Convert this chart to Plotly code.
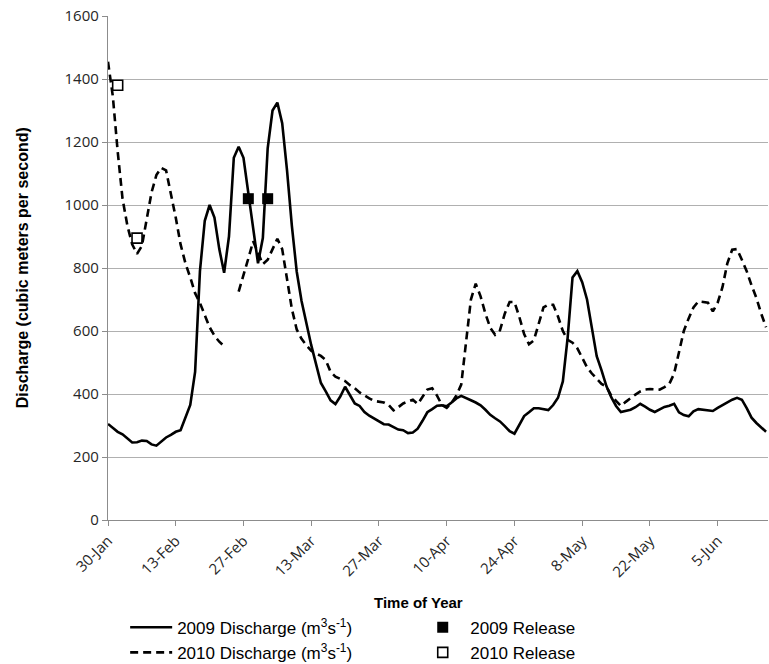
import pandas as pd
import plotly.graph_objects as go

# Daily river discharge (m3/s), one value per day starting 30 January
START = "2009-01-30"

discharge_2009 = [
    305, 292, 280, 272, 258, 246, 247, 252, 251, 240,
    236, 250, 262, 270, 280, 285, 325, 365, 470, 790,
    950, 1000, 960, 860, 785, 900, 1150, 1185, 1150, 1040,
    920, 815, 895, 1180, 1300, 1325, 1260, 1110, 934, 789,
    695, 620, 555, 495, 435, 408, 380, 368, 392, 423,
    398, 370, 362, 343, 331, 322, 314, 304, 303, 296,
    287, 285, 276, 278, 290, 315, 342, 352, 363, 364,
    361, 373, 386, 394, 388, 380, 373, 364, 350, 334,
    323, 313, 298, 282, 274, 300, 330, 342, 355, 355,
    352, 349, 365, 388, 440, 580, 770, 790, 755, 700,
    610, 520, 475, 425, 390, 362, 343, 346, 350, 358,
    369, 360, 350, 343, 352, 359, 363, 369, 342, 333,
    329, 345, 352, 350, 348, 346, 356, 365, 372, 382,
    388, 382, 355, 325, 308, 293, 280,
]

discharge_2010 = [
    1455, 1345, 1170, 1020, 935, 875, 845, 870, 955, 1040,
    1095, 1118, 1110, 1040, 960, 875, 815, 770, 720, 689,
    650, 612, 585, 566, 552, None, None, 725, 775, 830,
    885, 850, 812, 826, 858, 893, 860, 760, 670, 605,
    575, 555, 537, 528, 521, 508, 470, 455, 448, 441,
    428, 418, 405, 395, 386, 378, 375, 373, 365, 348,
    358, 370, 376, 382, 368, 390, 414, 418, 395, 365,
    356, 372, 395, 430, 560, 700, 750, 710, 655, 610,
    588, 602, 655, 692, 692, 645, 590, 558, 570, 620,
    675, 684, 683, 646, 600, 572, 563, 545, 515, 485,
    465, 448, 432, 424, 395, 378, 362, 375, 388, 398,
    408, 414, 416, 415, 414, 422, 432, 465, 530, 600,
    640, 675, 694, 693, 690, 662, 690, 740, 815, 858,
    860, 826, 790, 745, 705, 655, 612,
]

# Reservoir release events (month-day, discharge at the marker)
release_2009_dates = ["02-28", "03-04"]
release_2009_values = [1020, 1020]
release_2010_dates = ["02-01", "02-05"]
release_2010_values = [1380, 895]

days = pd.date_range(START, periods=len(discharge_2009), freq="D")
year = START[:4]


def on_axis(month_days):
    # place month-day stamps on the shared time-of-year axis
    return [f"{year}-{md}" for md in month_days]


LEGEND_FONT = dict(family="Liberation Sans, Arial, sans-serif", size=17, color="#000000")
TICK_FONT = dict(family="Open Sans, sans-serif", size=15, color="#262626")
TITLE_FONT = dict(family="Liberation Sans, Arial, sans-serif", size=16, color="#000000")

fig = go.Figure()

fig.add_trace(go.Scatter(
    x=days, y=discharge_2009, mode="lines",
    name="2009 Discharge (m<sup>3</sup>s<sup>-1</sup>)",
    line=dict(color="#000000", width=2.6),
    legend="legend",
))
fig.add_trace(go.Scatter(
    x=days, y=discharge_2010, mode="lines",
    name="2010 Discharge (m<sup>3</sup>s<sup>-1</sup>)",
    line=dict(color="#000000", width=2.6, dash="8px,5px"),
    connectgaps=False,
    legend="legend",
))
fig.add_trace(go.Scatter(
    x=on_axis(release_2009_dates), y=release_2009_values, mode="markers",
    name="2009 Release",
    marker=dict(symbol="square", size=11, color="#000000"),
    legend="legend2",
))
fig.add_trace(go.Scatter(
    x=on_axis(release_2010_dates), y=release_2010_values, mode="markers",
    name="2010 Release",
    marker=dict(symbol="square-open", size=10, color="#000000",
                line=dict(width=1.6, color="#000000")),
    legend="legend2",
))

x_end = pd.Timestamp(START) + pd.Timedelta(days=136.4)

fig.update_layout(
    width=769, height=664,
    margin=dict(l=108, r=1, t=16, b=144, autoexpand=False),
    paper_bgcolor="#ffffff", plot_bgcolor="#ffffff",
    showlegend=True,
    legend=dict(
        x=0.026, y=-0.178, xanchor="left", yanchor="top",
        font=LEGEND_FONT, bgcolor="rgba(0,0,0,0)", itemwidth=42,
        tracegroupgap=0,
    ),
    legend2=dict(
        x=0.4655, y=-0.178, xanchor="left", yanchor="top",
        font=LEGEND_FONT, bgcolor="rgba(0,0,0,0)", itemwidth=45,
        tracegroupgap=0,
    ),
    xaxis=dict(
        type="date",
        range=[pd.Timestamp(START), x_end],
        tick0=START, dtick=14 * 86400000, tickformat="%-d-%b",
        tickangle=-45, tickfont=TICK_FONT,
        showgrid=False, zeroline=False,
        showline=True, linecolor="#8c8c8c", linewidth=1.3,
        ticks="outside", ticklen=5, tickcolor="#8c8c8c", tickwidth=1.3,
    ),
    yaxis=dict(
        range=[0, 1600], dtick=200, tickfont=TICK_FONT,
        showgrid=True, gridcolor="#b0b0b0", gridwidth=1.4,
        zeroline=False,
        showline=True, linecolor="#8c8c8c", linewidth=1.3,
        ticks="outside", ticklen=5, tickcolor="#8c8c8c", tickwidth=1.3,
    ),
    annotations=[
        dict(text="<b>Discharge (cubic meters per second)</b>",
             xref="paper", yref="paper", x=-0.13, y=0.5,
             xanchor="center", yanchor="middle", textangle=-90,
             showarrow=False, font=TITLE_FONT),
        dict(text="<b>Time of Year</b>",
             xref="paper", yref="paper", x=0.47, y=-0.163,
             xanchor="center", yanchor="middle",
             showarrow=False, font=dict(TITLE_FONT, size=15)),
    ],
)

fig.write_html("out.html")
